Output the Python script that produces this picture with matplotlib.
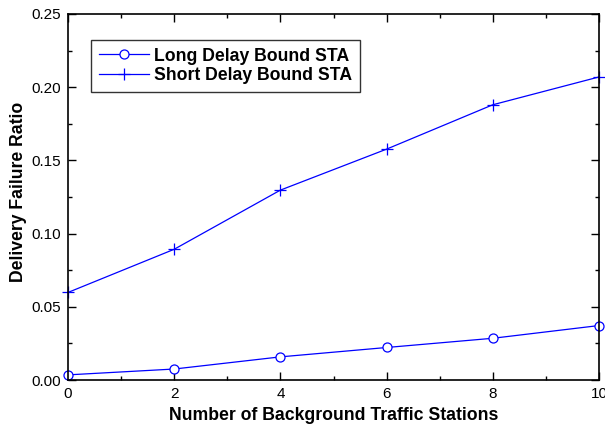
import matplotlib
matplotlib.use('Agg')
import matplotlib.pyplot as plt
from matplotlib.ticker import MultipleLocator

plt.rcParams['font.family'] = ['Liberation Sans', 'DejaVu Sans']

stations = [0, 2, 4, 6, 8, 10]
long_delay = [0.0035, 0.0075, 0.0158, 0.0222, 0.0285, 0.0372]
short_delay = [0.0598, 0.0893, 0.1297, 0.1577, 0.1880, 0.2070]

fig = plt.figure(figsize=(6.05, 4.24), dpi=100)
ax = fig.add_axes([68 / 605, 1 - 380 / 424, 531 / 605, 366 / 424])

ax.plot(stations, long_delay, color='#0000ff', lw=0.9, marker='o', ms=6.5,
        mfc='white', mec='#0000ff', mew=0.9, label='Long Delay Bound STA', clip_on=False)
ax.plot(stations, short_delay, color='#0000ff', lw=0.9, marker='+', ms=8,
        mew=0.9, label='Short Delay Bound STA', clip_on=False)

ax.set_xlim(0, 10)
ax.set_ylim(0, 0.25)
ax.xaxis.set_major_locator(MultipleLocator(2))
ax.xaxis.set_minor_locator(MultipleLocator(1))
ax.yaxis.set_major_locator(MultipleLocator(0.05))
ax.yaxis.set_minor_locator(MultipleLocator(0.025))
ax.yaxis.set_major_formatter(plt.FormatStrFormatter('%.2f'))
ax.tick_params(which='both', direction='in', top=True, right=True, labelsize=11, width=1)
ax.tick_params(which='major', length=6, pad=5)
ax.tick_params(which='minor', length=3)
for s in ax.spines.values():
    s.set_linewidth(1.2)

ax.set_xlabel('Number of Background Traffic Stations', fontsize=12.7, fontweight='bold', labelpad=4)
ax.set_ylabel('Delivery Failure Ratio', fontsize=12.7, fontweight='bold', va='center')
ax.yaxis.set_label_coords(-0.093, 0.515)

leg = ax.legend(loc='upper left', bbox_to_anchor=(0.044, 0.93),
                prop={'weight': 'bold', 'size': 12.7}, frameon=True, fancybox=False,
                edgecolor='black', handlelength=2.8, borderpad=0.45, labelspacing=0.12,
                handletextpad=0.3, borderaxespad=0)
leg.get_frame().set_linewidth(1.0)

fig.savefig('out.png', dpi=100)
